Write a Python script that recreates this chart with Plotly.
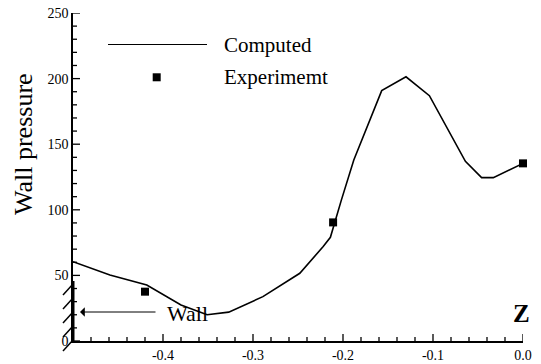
import plotly.graph_objects as go

# Data
comp_x = [-0.5, -0.459, -0.418, -0.38, -0.351, -0.327, -0.289, -0.248, -0.222, -0.214,
          -0.202, -0.188, -0.157, -0.130, -0.104, -0.064, -0.046, -0.033, 0.0]
comp_y = [60.4, 50.3, 42.7, 27.5, 20.0, 22.0, 33.8, 51.6, 72.0, 79.0,
          107.0, 138.0, 190.8, 201.4, 187.0, 137.0, 124.5, 124.5, 135.4]
exp_x = [-0.42, -0.211, 0.0]
exp_y = [37.6, 90.4, 135.4]
x_ticks = [-0.4, -0.3, -0.2, -0.1, 0.0]
x_tick_text = ["-0.4", "-0.3", "-0.2", "-0.1", "0.0"]
y_ticks = [0, 50, 100, 150, 200, 250]
x_minor_step = 0.02
y_minor_step = 10

FONT = "Liberation Serif"
L, R, T, B = 73, 18, 13, 23
W, H = 541, 364
PW, PH = W - L - R, H - T - B
X0, X1, Y0, Y1 = -0.5, 0.0, 0.0, 250.0


def px(xp):
    return (xp - L) / PW


def py(yp):
    return (H - B - yp) / PH


fig = go.Figure()

# inside tick marks as one line trace (positions from the tick lists)
tx, ty = [], []
n_xm = int(round((X1 - X0) / x_minor_step))
for i in range(n_xm + 1):
    xv = round(X0 + i * x_minor_step, 4)
    major = any(abs(xv - t) < 1e-9 for t in x_ticks)
    ln = (7 if major else 4) * (Y1 - Y0) / PH
    tx += [xv, xv, None]
    ty += [Y0, Y0 + ln, None]
n_ym = int(round((Y1 - Y0) / y_minor_step))
for i in range(n_ym + 1):
    yv = Y0 + i * y_minor_step
    major = yv in y_ticks
    ln = (7 if major else 4) * (X1 - X0) / PW
    tx += [X0, X0 + ln, None]
    ty += [yv, yv, None]
fig.add_trace(go.Scatter(x=tx, y=ty, mode="lines", line=dict(color="black", width=1.3),
                         showlegend=False, hoverinfo="skip", cliponaxis=False))

fig.add_trace(go.Scatter(x=comp_x, y=comp_y, mode="lines",
                         line=dict(color="black", width=1.6), showlegend=False,
                         cliponaxis=False))
fig.add_trace(go.Scatter(x=exp_x, y=exp_y, mode="markers",
                         marker=dict(symbol="square", color="black", size=8),
                         showlegend=False, cliponaxis=False))
fig.add_trace(go.Scatter(x=[-0.407], y=[201], mode="markers",
                         marker=dict(symbol="square", color="black", size=8),
                         showlegend=False, cliponaxis=False))

shapes = []
# legend line
shapes.append(dict(type="line", xref="paper", yref="paper",
                   x0=px(108), x1=px(207), y0=py(44.5), y1=py(44.5),
                   line=dict(color="black", width=1)))
# wall
shapes.append(dict(type="line", xref="paper", yref="paper", x0=px(73), x1=px(73),
                   y0=py(341), y1=py(281), line=dict(color="black", width=3)))
for yp in [284, 298, 312, 326, 340]:
    shapes.append(dict(type="line", xref="paper", yref="paper",
                       x0=px(73), y0=py(yp), x1=px(63), y1=py(yp + 11),
                       line=dict(color="black", width=1.5)))

annotations = [
    dict(xref="paper", yref="paper", x=px(222), y=py(45),
         text="Computed", showarrow=False, xanchor="left", yanchor="middle",
         font=dict(family=FONT, size=21, color="black")),
    dict(xref="paper", yref="paper", x=px(222), y=py(77),
         text="Experimemt", showarrow=False, xanchor="left", yanchor="middle",
         font=dict(family=FONT, size=21, color="black")),
    dict(xref="paper", yref="paper", x=px(80), y=py(312), ax=77, ay=0,
         axref="pixel", ayref="pixel", text="", showarrow=True, arrowhead=1,
         arrowsize=1.6, arrowwidth=1, arrowcolor="black"),
    dict(xref="paper", yref="paper", x=px(165), y=py(313), text="Wall", showarrow=False,
         xanchor="left", yanchor="middle",
         font=dict(family=FONT, size=22, color="black")),
    dict(xref="paper", yref="paper", x=px(521), y=py(313), text="<b>Z</b>", showarrow=False,
         xanchor="center", yanchor="middle",
         font=dict(family=FONT, size=25, color="black")),
    dict(xref="paper", yref="paper", x=px(23), y=py(144), text="Wall pressure",
         textangle=-90, showarrow=False, xanchor="center", yanchor="middle",
         font=dict(family=FONT, size=26, color="black")),
]

fig.update_layout(
    width=W, height=H,
    margin=dict(l=L, r=R, t=T, b=B),
    paper_bgcolor="white", plot_bgcolor="white",
    font=dict(family=FONT, color="black", size=14),
    shapes=shapes, annotations=annotations,
)
fig.update_xaxes(range=[X0, X1], tickmode="array", tickvals=x_ticks,
                 ticktext=x_tick_text, automargin=False,
                 showgrid=False, zeroline=False, showline=True, linecolor="black",
                 linewidth=1.5, ticks="",
                 tickfont=dict(family=FONT, size=14, color="black"))
fig.update_yaxes(range=[Y0, Y1], tickmode="array", tickvals=y_ticks,
                 automargin=False,
                 showgrid=False, zeroline=False, showline=True, linecolor="black",
                 linewidth=1.5, ticks="",
                 tickfont=dict(family=FONT, size=14, color="black"))

fig.write_html("out.html")
